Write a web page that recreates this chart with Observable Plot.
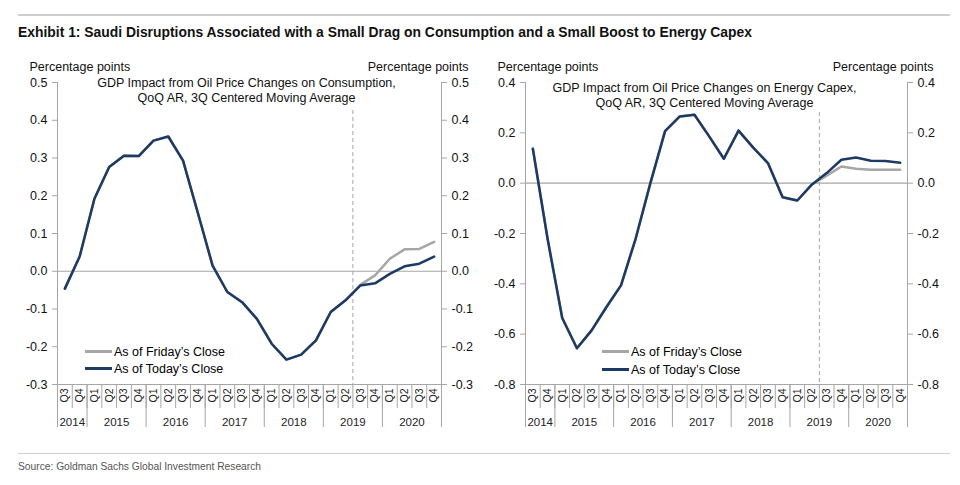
<!DOCTYPE html>
<html>
<head>
<meta charset="utf-8">
<script src="https://cdn.jsdelivr.net/npm/d3@7"></script>
<script src="https://cdn.jsdelivr.net/npm/@observablehq/plot@0.6"></script>
<style>
  html, body { margin: 0; padding: 0; background: #fff; }
  #page { position: relative; width: 960px; height: 485px; overflow: hidden; font-family: "Liberation Sans", Arial, sans-serif; color: #000; }
  .rule { position: absolute; left: 18px; width: 932px; background: #cfcfcf; }
  #title { position: absolute; left: 18px; top: 23px; font-family: "Liberation Sans Narrow", "Liberation Sans", Arial, sans-serif; font-weight: bold; font-size: 15.5px; white-space: nowrap; transform-origin: left top; color: #111; }
  #source { position: absolute; left: 18px; top: 460px; font-family: "Liberation Sans Narrow", "Liberation Sans", Arial, sans-serif; font-size: 11.5px; white-space: nowrap; transform-origin: left top; color: #555; }
  .chart { position: absolute; top: 50px; }
  .leg { position: absolute; font-size: 12.5px; white-space: nowrap; line-height: 14px; }
  .leg .sw { display: inline-block; width: 27px; height: 2.5px; vertical-align: middle; margin-right: 2px; position: relative; top: -1px; }
</style>
</head>
<body>
<div id="page">
  <div class="rule" style="top:14px;height:2px"></div>
  <div id="title">Exhibit 1: Saudi Disruptions Associated with a Small Drag on Consumption and a Small Boost to Energy Capex</div>
  <div id="c1" class="chart" style="left:0px"></div>
  <div id="c2" class="chart" style="left:480px"></div>
  <div class="rule" style="top:453px;height:1px"></div>
  <div id="source">Source: Goldman Sachs Global Investment Research</div>
</div>
<script>
// ---- data ----
const quarters = ["Q3","Q4","Q1","Q2","Q3","Q4","Q1","Q2","Q3","Q4","Q1","Q2","Q3","Q4","Q1","Q2","Q3","Q4","Q1","Q2","Q3","Q4","Q1","Q2","Q3","Q4"];
const years = ["2014","2015","2016","2017","2018","2019","2020"];
const yearQuarterCounts = [2,4,4,4,4,4,4];
const seriesNames = ["As of Friday\u2019s Close", "As of Today\u2019s Close"];

const consToday  = [-0.046,0.039,0.192,0.276,0.306,0.305,0.346,0.357,0.293,0.155,0.015,-0.055,-0.082,-0.126,-0.192,-0.234,-0.221,-0.183,-0.108,-0.077,-0.038,-0.032,-0.007,0.013,0.020,0.039];
const consFriday = [-0.046,0.039,0.192,0.276,0.306,0.305,0.346,0.357,0.293,0.155,0.015,-0.055,-0.082,-0.126,-0.192,-0.234,-0.221,-0.183,-0.108,-0.077,-0.036,-0.011,0.033,0.058,0.059,0.078];

const capexToday  = [0.137,-0.22,-0.536,-0.656,-0.585,-0.493,-0.406,-0.22,0.0,0.207,0.265,0.272,0.186,0.097,0.209,0.141,0.080,-0.056,-0.069,-0.005,0.040,0.093,0.102,0.089,0.088,0.081];
const capexFriday = [0.137,-0.22,-0.536,-0.656,-0.585,-0.493,-0.406,-0.22,0.0,0.207,0.265,0.272,0.186,0.097,0.209,0.141,0.080,-0.056,-0.069,-0.005,0.030,0.066,0.057,0.053,0.053,0.053];

const consTicks = [-0.3,-0.2,-0.1,0.0,0.1,0.2,0.3,0.4,0.5];
const capexTicks = [-0.8,-0.6,-0.4,-0.2,0.0,0.2,0.4];
const forecastStart = 20; // boundary between 2019Q2 and 2019Q3

const consTitle = "GDP Impact from Oil Price Changes on Consumption,\nQoQ AR, 3Q Centered Moving Average";
const capexTitle = "GDP Impact from Oil Price Changes on Energy Capex,\nQoQ AR, 3Q Centered Moving Average";

// ---- derived ----
const nQ = quarters.length;
const quarterBoundaries = d3.range(nQ + 1);
const yearBoundaries = [0, ...d3.cumsum(yearQuarterCounts)];
const yearMids = years.map((y, k) => (yearBoundaries[k] + yearBoundaries[k + 1]) / 2);
const quarterMids = quarters.map((q, i) => i + 0.5);

const NAVY = "#1c3a64", GREY = "#a6a6a6", AXIS = "#a6a6a6";

function rows(friday, today) {
  return [
    ...friday.map((v, i) => ({i, value: v, series: seriesNames[0]})),
    ...today.map((v, i) => ({i, value: v, series: seriesNames[1]}))
  ];
}

function makeChart({friday, today, ticks, title, marginLeft, marginRight, titleDx, titleDy, dashInset, plLeftDx, plRightDx}) {
  const data = rows(friday, today);
  const yDomain = d3.extent(ticks);
  const fmt = d => d.toFixed(1);
  return Plot.plot({
    width: 480,
    height: 385,
    marginTop: 32,
    marginBottom: 51,
    marginLeft,
    marginRight,
    style: {fontFamily: "Liberation Sans, Arial, sans-serif", fontSize: "12.5px", color: "#111", background: "#fff", overflow: "visible"},
    x: {domain: [0, nQ], axis: null},
    y: {domain: yDomain, axis: null},
    color: {domain: seriesNames, range: [GREY, NAVY]},
    marks: [
      Plot.ruleY([0], {stroke: AXIS, strokeWidth: 1.2}),
      Plot.ruleY([yDomain[0]], {stroke: AXIS, strokeWidth: 1}),
      Plot.ruleX([0, nQ], {stroke: AXIS, strokeWidth: 1}),
      Plot.ruleX([forecastStart], {stroke: AXIS, strokeWidth: 1, strokeDasharray: "4,3", insetTop: dashInset}),
      Plot.axisY(ticks, {anchor: "left", label: null, tickSize: 5, tickPadding: 5, tickFormat: fmt, stroke: AXIS, strokeOpacity: 1, fontSize: 12.5, fill: "#111"}),
      Plot.axisY(ticks, {anchor: "right", label: null, tickSize: 5, tickPadding: 5, tickFormat: fmt, stroke: AXIS, strokeOpacity: 1, fontSize: 12.5, fill: "#111"}),
      Plot.axisX(quarterBoundaries, {anchor: "bottom", label: null, tickSize: 24, stroke: AXIS, strokeOpacity: 1, fill: "none"}),
      Plot.axisX(yearBoundaries, {anchor: "bottom", label: null, tickSize: 43, stroke: AXIS, strokeOpacity: 1, fill: "none"}),
      Plot.axisX(quarterMids, {anchor: "bottom", label: null, tickSize: 0, tickPadding: 4, tickRotate: -90, tickFormat: d => quarters[Math.floor(d)], fontSize: 10.5, fill: "#222"}),
      Plot.axisX(yearMids, {anchor: "bottom", label: null, tickSize: 0, tickPadding: 33, tickFormat: d => years[yearMids.indexOf(d)], fontSize: 11.5, fill: "#222"}),
      Plot.line(data, {x: d => d.i + 0.5, y: "value", stroke: "series", z: "series", strokeWidth: 2.5, strokeLinejoin: "round"}),
      Plot.text([title], {frameAnchor: "top", dx: titleDx, dy: titleDy, lineAnchor: "top", lineHeight: 1.2, fontSize: 12.5, fill: "#111"}),
      Plot.text(["Percentage points"], {frameAnchor: "top-left", textAnchor: "start", lineAnchor: "middle", dx: plLeftDx, dy: -16, fontSize: 12.5, fill: "#111"}),
      Plot.text(["Percentage points"], {frameAnchor: "top-right", textAnchor: "end", lineAnchor: "middle", dx: plRightDx, dy: -16, fontSize: 12.5, fill: "#111"})
    ]
  });
}

document.getElementById("c1").appendChild(makeChart({
  friday: consFriday, today: consToday, ticks: consTicks, title: consTitle,
  marginLeft: 57, marginRight: 39, titleDx: -3, titleDy: -6, dashInset: 28, plLeftDx: -28, plRightDx: 27
}));
document.getElementById("c2").appendChild(makeChart({
  friday: capexFriday, today: capexToday, ticks: capexTicks, title: capexTitle,
  marginLeft: 45, marginRight: 53, titleDx: -12, titleDy: -1, dashInset: 30, plLeftDx: -28, plRightDx: 26
}));

// legends
function legend(left, tops) {
  const page = document.getElementById("page");
  seriesNames.forEach((name, k) => {
    const d = document.createElement("div");
    d.className = "leg";
    d.style.left = left + "px";
    d.style.top = (tops[k] - 7) + "px";
    const sw = document.createElement("span");
    sw.className = "sw";
    sw.style.background = k === 0 ? GREY : NAVY;
    d.appendChild(sw);
    d.appendChild(document.createTextNode(name));
    page.appendChild(d);
  });
}
legend(85, [352, 369]);
legend(602, [352, 370]);

// fit condensed header/footer text to reference widths
function fit(id, w) {
  const el = document.getElementById(id);
  const cur = el.getBoundingClientRect().width;
  if (cur > 0) el.style.transform = `scaleX(${w / cur})`;
}
fit("title", 734);
fit("source", 243);
</script>
</body>
</html>
